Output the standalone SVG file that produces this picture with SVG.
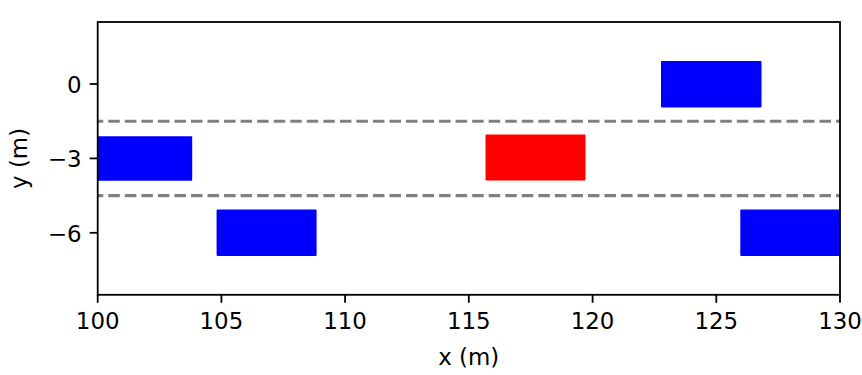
<svg xmlns="http://www.w3.org/2000/svg" width="862" height="375" viewBox="0 0 862 375">
<style>
  text { font-family: "DejaVu Sans", "Liberation Sans", sans-serif; font-size: 22.9px; fill: #000; }
  .xt { text-anchor: middle; }
  .yt { text-anchor: end; }
  .tick { stroke: #000; stroke-width: 1.8; }
  .spine { stroke: #000; stroke-width: 1.8; fill: none; stroke-linecap: square; }
  .lane { stroke: #808080; stroke-width: 3.1; stroke-dasharray: 11.5 5.04; fill: none; }
  .car { fill: #0000ff; }
  .ego { fill: #ff0000; }
</style>
<defs>
  <clipPath id="ax">
    <rect x="97.7" y="22" width="742.3" height="272.8"/>
  </clipPath>
</defs>
<rect x="0" y="0" width="862" height="375" fill="#ffffff"/>
<g id="lanes" clip-path="url(#ax)">
  <line class="lane" x1="91.76" y1="121.2" x2="845" y2="121.2"/>
  <line class="lane" x1="91.76" y1="195.6" x2="845" y2="195.6"/>
</g>
<g id="vehicles" clip-path="url(#ax)">
  <g id="car-tr"><rect class="car" x="661" y="61" width="100.5" height="46.5" rx="1"/></g>
  <g id="car-ml"><rect class="car" x="92.2" y="136.2" width="100" height="44.6" rx="1"/></g>
  <g id="ego"><rect class="ego" x="485.5" y="134.6" width="100" height="46" rx="1"/></g>
  <g id="car-bl"><rect class="car" x="216.6" y="209.6" width="100" height="46.5" rx="1"/></g>
  <g id="car-br"><rect class="car" x="740.3" y="209.6" width="100" height="46.5" rx="1"/></g>
</g>
<g id="axes">
  <rect class="spine" x="97.7" y="22" width="742.3" height="272.8"/>
  <g id="xticks">
    <line class="tick" x1="97.7" y1="294.8" x2="97.7" y2="302.8"/>
    <line class="tick" x1="221.4" y1="294.8" x2="221.4" y2="302.8"/>
    <line class="tick" x1="345.1" y1="294.8" x2="345.1" y2="302.8"/>
    <line class="tick" x1="468.8" y1="294.8" x2="468.8" y2="302.8"/>
    <line class="tick" x1="592.6" y1="294.8" x2="592.6" y2="302.8"/>
    <line class="tick" x1="716.3" y1="294.8" x2="716.3" y2="302.8"/>
    <line class="tick" x1="840" y1="294.8" x2="840" y2="302.8"/>
    <text class="xt" x="97.7" y="328.8">100</text>
    <text class="xt" x="221.4" y="328.8">105</text>
    <text class="xt" x="345.1" y="328.8">110</text>
    <text class="xt" x="468.8" y="328.8">115</text>
    <text class="xt" x="592.6" y="328.8">120</text>
    <text class="xt" x="716.3" y="328.8">125</text>
    <text class="xt" x="840" y="328.8">130</text>
  </g>
  <g id="yticks">
    <line class="tick" x1="89.7" y1="84" x2="97.7" y2="84"/>
    <line class="tick" x1="89.7" y1="158.4" x2="97.7" y2="158.4"/>
    <line class="tick" x1="89.7" y1="232.8" x2="97.7" y2="232.8"/>
    <text class="yt" x="81.5" y="93">0</text>
    <text class="yt" x="81.5" y="167.4">−3</text>
    <text class="yt" x="81.5" y="241.8">−6</text>
  </g>
  <text id="xlabel" class="xt" x="468.8" y="365">x (m)</text>
  <text id="ylabel" class="xt" transform="translate(27 158.4) rotate(-90)" x="0" y="0">y (m)</text>
</g>
</svg>
